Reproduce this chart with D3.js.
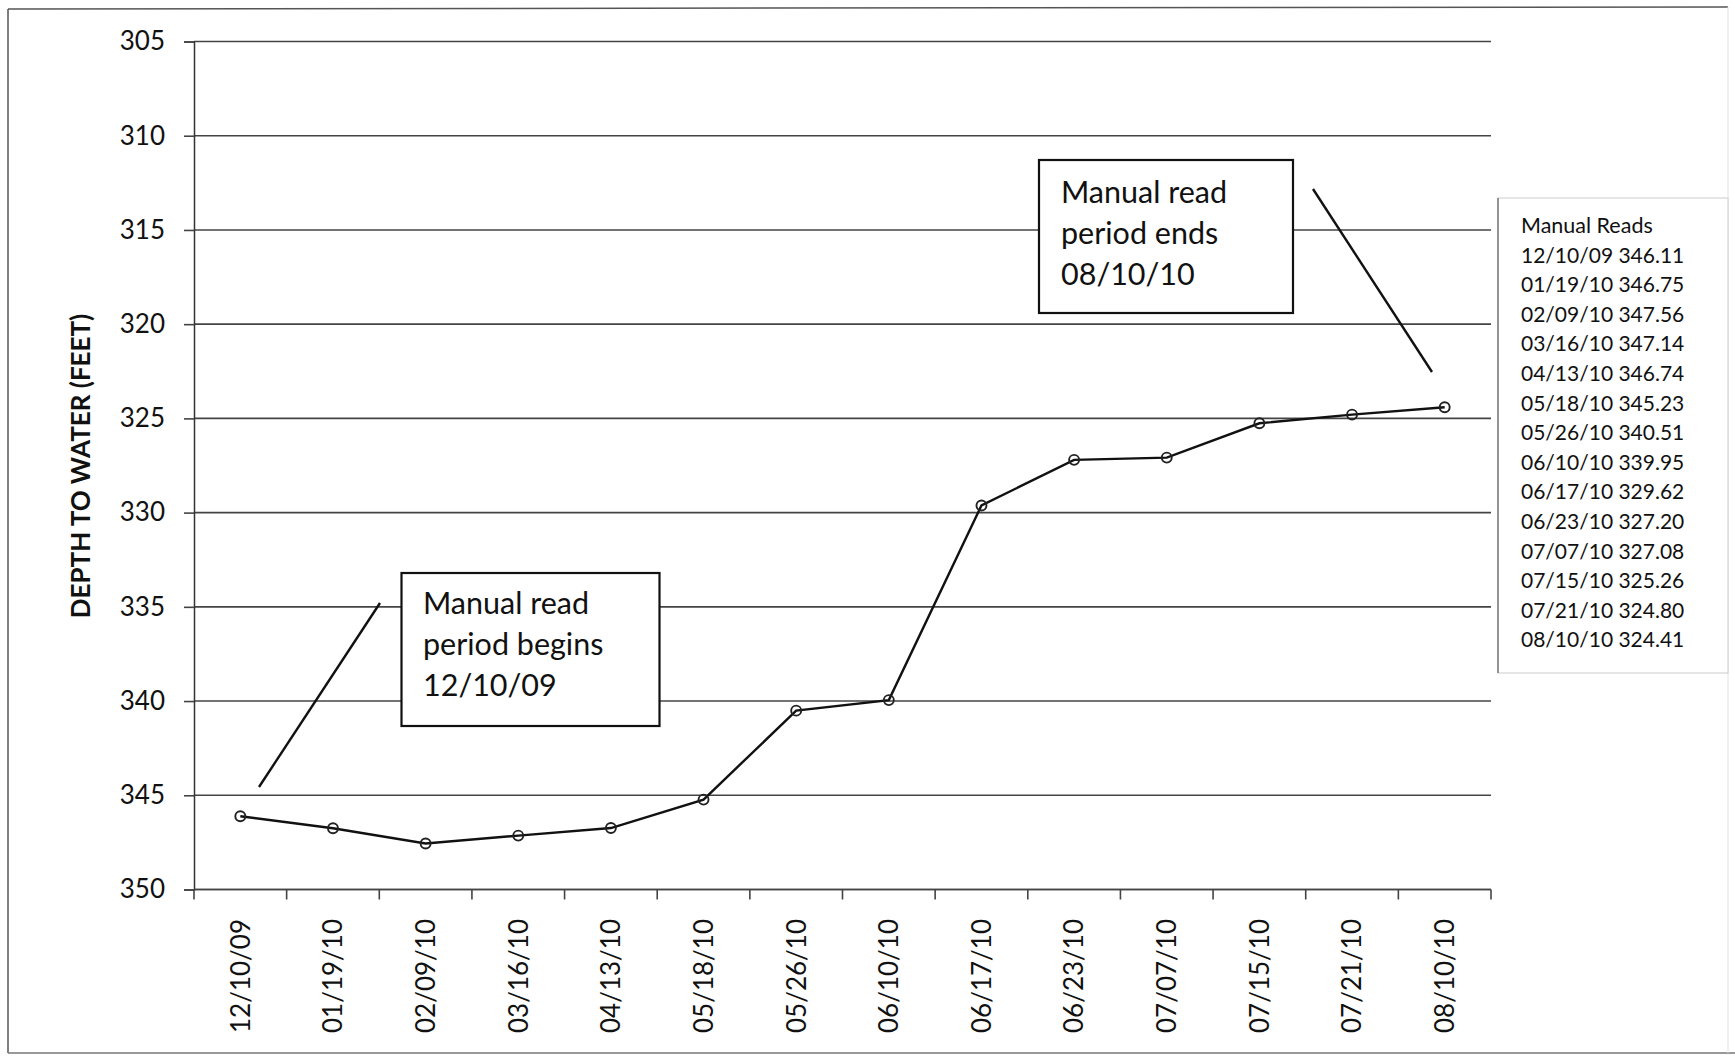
<!DOCTYPE html>
<html>
<head>
<meta charset="utf-8">
<script src="https://cdn.jsdelivr.net/npm/d3@7"></script>
<style>
  html, body { margin: 0; padding: 0; background: #fff; }
  svg { display: block; }
  text { font-family: Lato, "Open Sans", sans-serif; fill: #111; }
</style>
</head>
<body>
<svg id="chart" width="1735" height="1057"></svg>
<script>
// ---- data ----
const dates = ["12/10/09","01/19/10","02/09/10","03/16/10","04/13/10","05/18/10","05/26/10",
               "06/10/10","06/17/10","06/23/10","07/07/10","07/15/10","07/21/10","08/10/10"];
const depths = [346.11,346.75,347.56,347.14,346.74,345.23,340.51,339.95,329.62,327.20,327.08,325.26,324.80,324.41];
const yTicks = [305,310,315,320,325,330,335,340,345,350];
const yTitle = "DEPTH TO WATER (FEET)";
const legendTitle = "Manual Reads";
const noteBegin = ["Manual read","period begins","12/10/09"];
const noteEnd = ["Manual read","period ends","08/10/10"];

// ---- layout ----
const L = 194, R = 1491, T = 41.5, B = 889.5;

const svg = d3.select("#chart");

// outer border
svg.append("line").attr("x1",8).attr("y1",9).attr("x2",1728).attr("y2",7).attr("stroke","#555").attr("stroke-width",1.5);
svg.append("line").attr("x1",8).attr("y1",9).attr("x2",8).attr("y2",1053).attr("stroke","#555").attr("stroke-width",1.5);
svg.append("line").attr("x1",8).attr("y1",1053).attr("x2",1735).attr("y2",1053).attr("stroke","#777").attr("stroke-width",1.5);
svg.append("line").attr("x1",1728).attr("y1",7).attr("x2",1728).attr("y2",1053).attr("stroke","#e2e2e2").attr("stroke-width",1);

const x = d3.scaleBand().domain(dates).range([L, R]).paddingInner(0).paddingOuter(0);
const y = d3.scaleLinear().domain([305, 350]).range([T, B]);
const cx = d => x(d) + x.bandwidth() / 2;

// gridlines
svg.append("g").selectAll("line").data(yTicks).join("line")
  .attr("x1", L).attr("x2", R)
  .attr("y1", d => y(d)).attr("y2", d => y(d))
  .attr("stroke", "#444").attr("stroke-width", 1.6);

// y axis
const yAxis = svg.append("g").attr("transform", `translate(${L},0)`)
  .call(d3.axisLeft(y).tickValues(yTicks).tickSize(10).tickPadding(19).tickFormat(d3.format("d")));
yAxis.select(".domain").attr("stroke", "#333").attr("stroke-width", 1.5);
yAxis.selectAll(".tick line").attr("stroke", "#444").attr("stroke-width", 1.6);
yAxis.selectAll("text").style("font-family", "Lato, sans-serif").style("font-size", "26px").attr("fill", "#111");

// x axis (ticks between categories)
const xAxis = svg.append("g").attr("transform", `translate(0,${B})`);
xAxis.append("line").attr("x1", L).attr("x2", R).attr("stroke", "#444").attr("stroke-width", 1.6);
const bounds = dates.map(d => x(d)).concat([R]);
xAxis.selectAll("line.tk").data(bounds).join("line").attr("class","tk")
  .attr("x1", d => d).attr("x2", d => d).attr("y1", 0).attr("y2", 10)
  .attr("stroke", "#444").attr("stroke-width", 1.6);
svg.append("g").selectAll("text").data(dates).join("text")
  .attr("transform", d => `translate(${cx(d)},919) rotate(-90)`)
  .attr("text-anchor", "end").attr("dy", "0.36em")
  .style("font-size", "26px").text(d => d);

// y title
svg.append("text")
  .attr("transform", "translate(81,466) rotate(-90)")
  .attr("text-anchor", "middle").attr("dy", "0.36em")
  .style("font-size", "26px").style("font-weight", "bold")
  .text(yTitle);

// annotation pointer lines
svg.append("line").attr("x1",259).attr("y1",787).attr("x2",380).attr("y2",603).attr("stroke","#111").attr("stroke-width",2.4);
svg.append("line").attr("x1",1313).attr("y1",189).attr("x2",1432).attr("y2",372).attr("stroke","#111").attr("stroke-width",2.4);

// annotation boxes
function note(x0, y0, w, h, lines, tx, ty) {
  const g = svg.append("g");
  g.append("rect").attr("x", x0).attr("y", y0).attr("width", w).attr("height", h)
    .attr("fill", "#fff").attr("stroke", "#111").attr("stroke-width", 2.2);
  g.selectAll("text").data(lines).join("text")
    .attr("x", tx).attr("y", (d, i) => ty + i * 41)
    .style("font-size", "30.5px").text(d => d);
}
note(401.5, 573, 258, 153, noteBegin, 423, 614);
note(1039, 160, 254, 153, noteEnd, 1061, 203);

// data line
const line = d3.line().x((d, i) => cx(dates[i])).y(d => y(d));
svg.append("path").datum(depths).attr("d", line)
  .attr("fill", "none").attr("stroke", "#111").attr("stroke-width", 2.4);
svg.append("g").selectAll("circle").data(depths).join("circle")
  .attr("cx", (d, i) => cx(dates[i])).attr("cy", d => y(d)).attr("r", 5)
  .attr("fill", "none").attr("stroke", "#222").attr("stroke-width", 1.9);

// legend / manual reads box
const lg = svg.append("g");
lg.append("rect").attr("x", 1498).attr("y", 198).attr("width", 230).attr("height", 475)
  .attr("fill", "#fff").attr("stroke", "#ccc").attr("stroke-width", 1);
lg.append("line").attr("x1", 1498).attr("x2", 1498).attr("y1", 198).attr("y2", 673)
  .attr("stroke", "#777").attr("stroke-width", 1.5);
lg.append("text").attr("x", 1521).attr("y", 233).style("font-size", "21.5px").text(legendTitle);
lg.selectAll("text.row").data(dates).join("text").attr("class", "row")
  .attr("x", 1521).attr("y", (d, i) => 233 + (i + 1) * 29.6)
  .style("font-size", "21px")
  .text((d, i) => `${d} ${depths[i].toFixed(2)}`);
</script>
</body>
</html>
